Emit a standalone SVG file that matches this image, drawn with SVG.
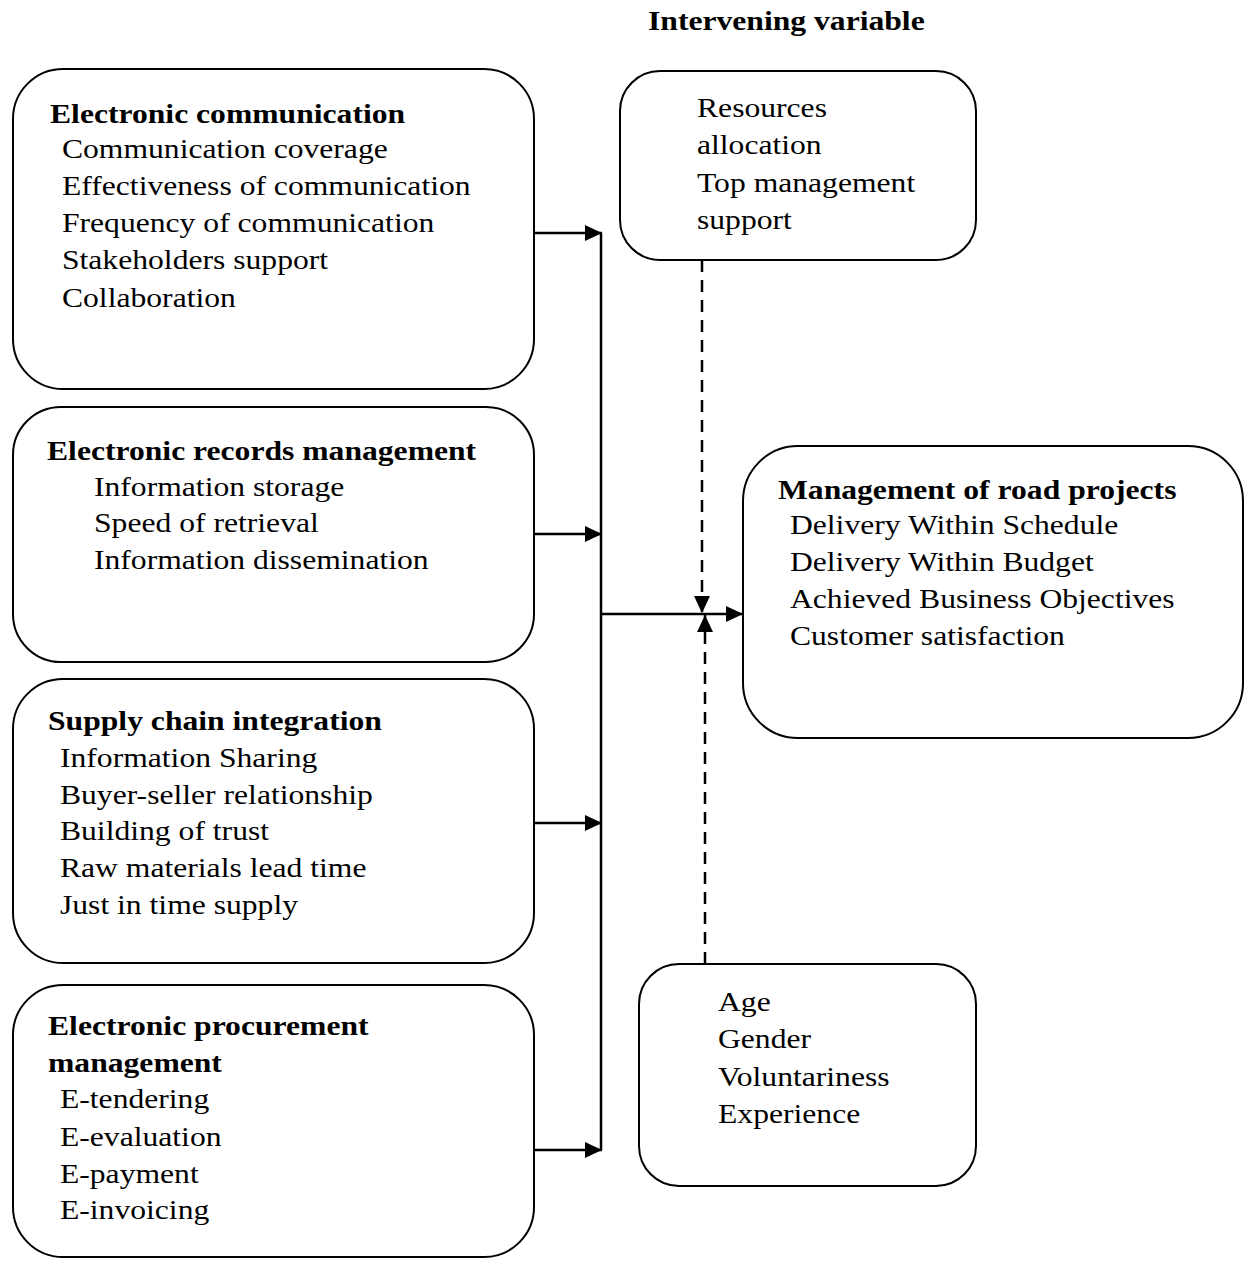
<svg xmlns="http://www.w3.org/2000/svg" width="1246" height="1268" viewBox="0 0 1246 1268">
<style>
.box{fill:#fff;stroke:#000;stroke-width:2}
.t{font-family:"Liberation Serif","Times New Roman",serif;font-size:28px;fill:#000}
.b{font-weight:bold}
.ln{fill:none;stroke:#000;stroke-width:2.5}
.dash{fill:none;stroke:#000;stroke-width:2.5;stroke-dasharray:12 8}
</style>
<defs>
<marker id="ah" markerUnits="userSpaceOnUse" markerWidth="17" markerHeight="16" refX="17" refY="8" orient="auto">
<path d="M0,0 L17,8 L0,16 z" fill="#000"/>
</marker>
</defs>
<rect width="1246" height="1268" fill="#fff"/>

<g id="title">
<g transform="translate(648,0) scale(1.13,1)"><text class="t b" x="0" y="30">Intervening variable</text></g>
</g>

<g id="electronic-communication">
<rect class="box" x="13" y="69" width="521" height="320" rx="50" ry="50"/>
<g transform="translate(50,0) scale(1.13,1)"><text class="t">
<tspan class="b" x="0" y="123">Electronic communication</tspan>
<tspan x="10.6" y="158">Communication coverage</tspan>
<tspan x="10.6" y="195">Effectiveness of communication</tspan>
<tspan x="10.6" y="232">Frequency of communication</tspan>
<tspan x="10.6" y="269">Stakeholders support</tspan>
<tspan x="10.6" y="307">Collaboration</tspan>
</text></g>
</g>

<g id="electronic-records">
<rect class="box" x="13" y="407" width="521" height="255" rx="48" ry="48"/>
<g transform="translate(47,0) scale(1.13,1)"><text class="t">
<tspan class="b" x="0" y="460">Electronic records management</tspan>
<tspan x="41.6" y="496">Information storage</tspan>
<tspan x="41.6" y="532">Speed of retrieval</tspan>
<tspan x="41.6" y="569">Information dissemination</tspan>
</text></g>
</g>

<g id="supply-chain">
<rect class="box" x="13" y="679" width="521" height="284" rx="50" ry="50"/>
<g transform="translate(48,0) scale(1.13,1)"><text class="t">
<tspan class="b" x="0" y="730">Supply chain integration</tspan>
<tspan x="10.6" y="767">Information Sharing</tspan>
<tspan x="10.6" y="804">Buyer-seller relationship</tspan>
<tspan x="10.6" y="840">Building of trust</tspan>
<tspan x="10.6" y="877">Raw materials lead time</tspan>
<tspan x="10.6" y="914">Just in time supply</tspan>
</text></g>
</g>

<g id="procurement">
<rect class="box" x="13" y="985" width="521" height="272" rx="50" ry="50"/>
<g transform="translate(48,0) scale(1.13,1)"><text class="t">
<tspan class="b" x="0" y="1035">Electronic procurement</tspan>
<tspan class="b" x="0" y="1072">management</tspan>
<tspan x="10.6" y="1108">E-tendering</tspan>
<tspan x="10.6" y="1146">E-evaluation</tspan>
<tspan x="10.6" y="1183">E-payment</tspan>
<tspan x="10.6" y="1219">E-invoicing</tspan>
</text></g>
</g>

<g id="intervening-top">
<rect class="box" x="620" y="71" width="356" height="189" rx="40" ry="40"/>
<g transform="translate(697,0) scale(1.13,1)"><text class="t">
<tspan x="0" y="117">Resources</tspan>
<tspan x="0" y="154">allocation</tspan>
<tspan x="0" y="192">Top management</tspan>
<tspan x="0" y="229">support</tspan>
</text></g>
</g>

<g id="road-projects">
<rect class="box" x="743" y="446" width="500" height="292" rx="55" ry="55"/>
<g transform="translate(778,0) scale(1.13,1)"><text class="t">
<tspan class="b" x="0" y="499">Management of road projects</tspan>
<tspan x="10.6" y="534">Delivery Within Schedule</tspan>
<tspan x="10.6" y="571">Delivery Within Budget</tspan>
<tspan x="10.6" y="608">Achieved Business Objectives</tspan>
<tspan x="10.6" y="645">Customer satisfaction</tspan>
</text></g>
</g>

<g id="intervening-bottom">
<rect class="box" x="639" y="964" width="337" height="222" rx="40" ry="40"/>
<g transform="translate(718,0) scale(1.13,1)"><text class="t">
<tspan x="0" y="1011">Age</tspan>
<tspan x="0" y="1048">Gender</tspan>
<tspan x="0" y="1086">Voluntariness</tspan>
<tspan x="0" y="1123">Experience</tspan>
</text></g>
</g>

<g id="connectors">
<line class="ln" x1="601" y1="233" x2="601" y2="1150"/>
<line class="ln" x1="534" y1="233" x2="602" y2="233" marker-end="url(#ah)"/>
<line class="ln" x1="534" y1="534" x2="602" y2="534" marker-end="url(#ah)"/>
<line class="ln" x1="534" y1="823" x2="602" y2="823" marker-end="url(#ah)"/>
<line class="ln" x1="534" y1="1150" x2="602" y2="1150" marker-end="url(#ah)"/>
<line class="ln" x1="601" y1="614" x2="743" y2="614" marker-end="url(#ah)"/>
<line class="dash" x1="702" y1="260" x2="702" y2="613" marker-end="url(#ah)"/>
<line class="dash" x1="705" y1="964" x2="705" y2="615" marker-end="url(#ah)"/>
</g>
</svg>
